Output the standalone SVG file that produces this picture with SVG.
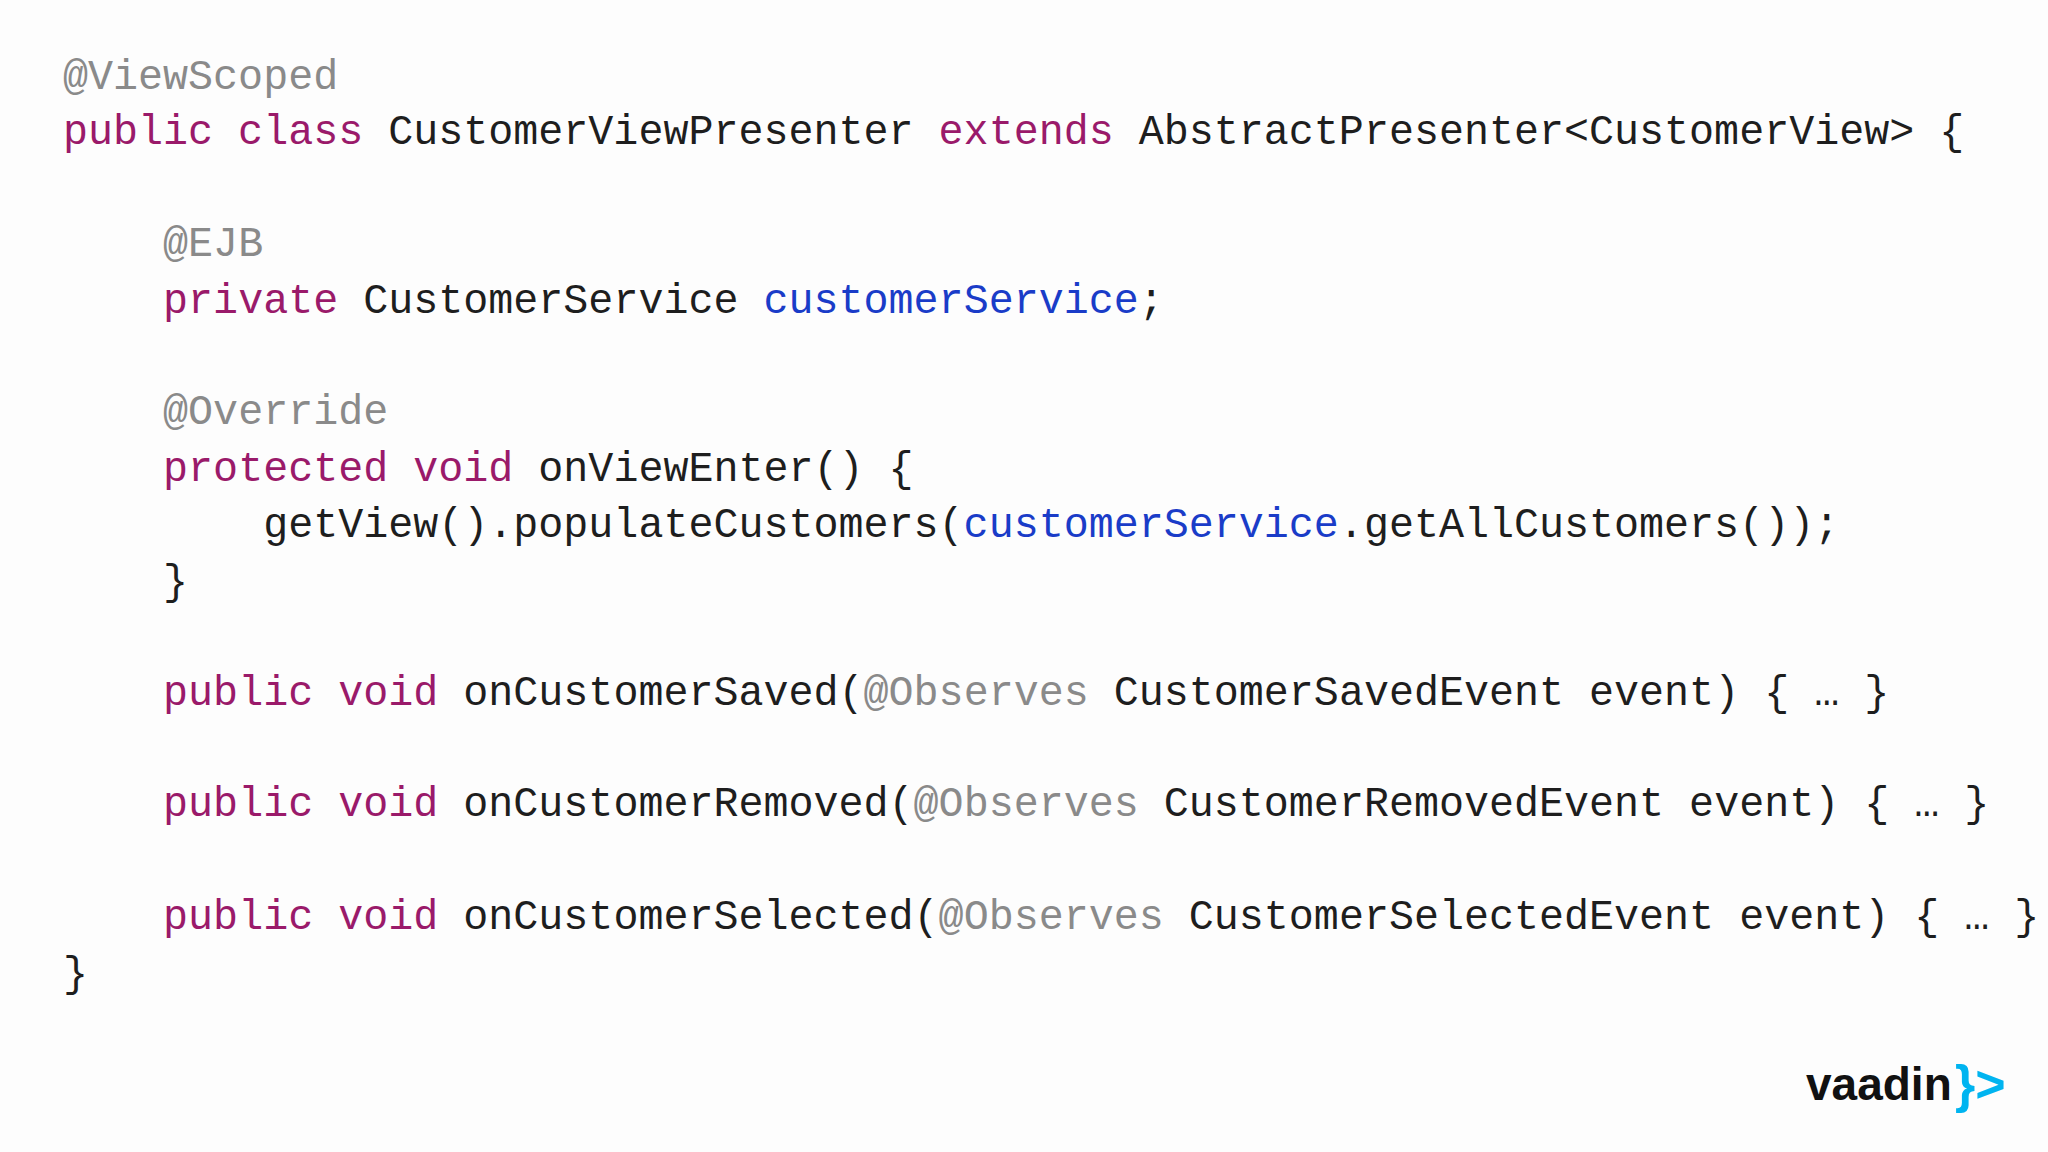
<svg xmlns="http://www.w3.org/2000/svg" width="2048" height="1152" viewBox="0 0 2048 1152">
<style>
.c{font-family:"Liberation Mono","DejaVu Sans Mono",monospace;font-size:41.7px;fill:#1e1e1e;white-space:pre}
.k{fill:#9a1a6a}.a{fill:#8a8a8a}.f{fill:#1a3cc8}
</style>
<rect width="2048" height="1152" fill="#fdfdfd"/>
<g id="code">
<text class="c" x="63" y="89" xml:space="preserve"><tspan class="a">@ViewScoped</tspan></text>
<text class="c" x="63" y="144" xml:space="preserve"><tspan class="k">public class</tspan> CustomerViewPresenter <tspan class="k">extends</tspan> AbstractPresenter&lt;CustomerView&gt; {</text>
<text class="c" x="63" y="256" xml:space="preserve">    <tspan class="a">@EJB</tspan></text>
<text class="c" x="63" y="313" xml:space="preserve">    <tspan class="k">private</tspan> CustomerService <tspan class="f">customerService</tspan>;</text>
<text class="c" x="63" y="424" xml:space="preserve">    <tspan class="a">@Override</tspan></text>
<text class="c" x="63" y="481" xml:space="preserve">    <tspan class="k">protected void</tspan> onViewEnter() {</text>
<text class="c" x="63" y="537" xml:space="preserve">        getView().populateCustomers(<tspan class="f">customerService</tspan>.getAllCustomers());</text>
<text class="c" x="63" y="594" xml:space="preserve">    }</text>
<text class="c" x="63" y="705" xml:space="preserve">    <tspan class="k">public void</tspan> onCustomerSaved(<tspan class="a">@Observes</tspan> CustomerSavedEvent event) { … }</text>
<text class="c" x="63" y="816" xml:space="preserve">    <tspan class="k">public void</tspan> onCustomerRemoved(<tspan class="a">@Observes</tspan> CustomerRemovedEvent event) { … }</text>
<text class="c" x="63" y="929" xml:space="preserve">    <tspan class="k">public void</tspan> onCustomerSelected(<tspan class="a">@Observes</tspan> CustomerSelectedEvent event) { … }</text>
<text class="c" x="63" y="986" xml:space="preserve">}</text>
</g>
<g id="logo">
<text x="1806" y="1100" font-family="Liberation Sans, Arial, sans-serif" font-weight="bold" font-size="46" fill="#111">vaadin</text>
<text x="1955" y="1102" font-family="Liberation Sans, Arial, sans-serif" font-weight="bold" font-size="52" fill="#00b4f0">}&gt;</text>
</g>
</svg>
